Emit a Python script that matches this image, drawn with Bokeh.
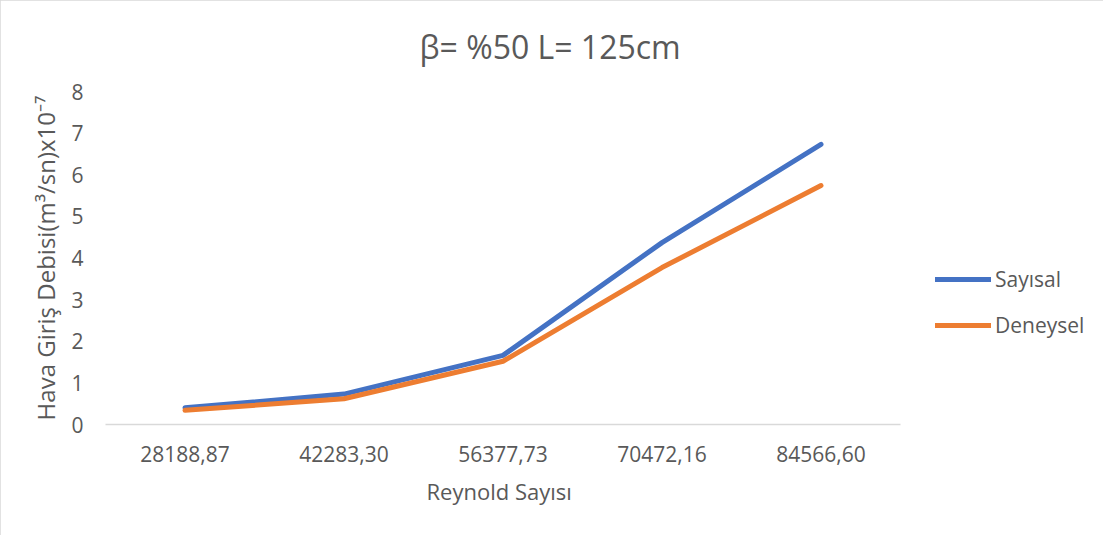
from bokeh.plotting import figure
from bokeh.models import Range1d, Legend, LegendItem, Title, FixedTicker
from bokeh.embed import file_html
from bokeh.resources import INLINE

categories = ["28188,87", "42283,30", "56377,73", "70472,16", "84566,60"]
sayisal = [0.40, 0.73, 1.66, 4.37, 6.73]
deneysel = [0.34, 0.62, 1.52, 3.77, 5.74]
series_names = ["Sayısal", "Deneysel"]
colors = ["#4472C4", "#ED7D31"]

FONT = "Open Sans"
TXT = "#595959"

idx = list(range(len(categories)))
W, H = 1103, 535
LEFT, RIGHT, TOP, BOTTOM = 105, 8, 91, 111
axis_px = 795                      # pixel length of the category axis
frame_w = W - LEFT - RIGHT
x_end = (len(categories) - 0.5) + (frame_w - axis_px) * len(categories) / axis_px

p = figure(width=W, height=H, output_backend="svg", toolbar_location=None,
           x_range=Range1d(-0.5, x_end), y_range=Range1d(0, 8),
           min_border_left=LEFT, min_border_right=RIGHT, min_border_top=TOP, min_border_bottom=BOTTOM)
p.outline_line_color = None
p.xgrid.grid_line_color = None
p.ygrid.grid_line_color = None
p.styles = {"outline": "1px solid #d9d9d9", "outline-offset": "-1px"}

r1 = p.line(idx, sayisal, line_color=colors[0], line_width=5, line_cap="round", line_join="round")
r2 = p.line(idx, deneysel, line_color=colors[1], line_width=5, line_cap="round", line_join="round")

# x axis
p.xaxis.bounds = (-0.5, len(categories) - 0.5)
p.xaxis.ticker = FixedTicker(ticks=idx)
p.xaxis.major_label_overrides = {i: c for i, c in zip(idx, categories)}
p.xaxis.axis_line_color = "#d9d9d9"
p.xaxis.axis_line_width = 1.5
p.xaxis.major_tick_line_color = None
p.xaxis.minor_tick_line_color = None
p.xaxis.major_label_text_font = FONT
p.xaxis.major_label_text_font_size = "21px"
p.xaxis.major_label_text_color = TXT
p.xaxis.major_label_standoff = 15

p.add_layout(Title(text="Reynold Sayısı", align="left", offset=321,
                   text_font=FONT, text_font_size="22px", text_font_style="normal",
                   text_color=TXT, standoff=18), "below")

# y axis
p.yaxis.ticker = FixedTicker(ticks=[0, 1, 2, 3, 4, 5, 6, 7, 8])
p.yaxis.axis_line_color = None
p.yaxis.major_tick_line_color = None
p.yaxis.minor_tick_line_color = None
p.yaxis.major_label_text_font = FONT
p.yaxis.major_label_text_font_size = "21px"
p.yaxis.major_label_text_color = TXT
p.yaxis.major_label_standoff = 16
p.yaxis.axis_label = "Hava Giriş Debisi(m³/sn)x10⁻⁷"
p.yaxis.axis_label_text_font = FONT
p.yaxis.axis_label_text_font_size = "24px"
p.yaxis.axis_label_text_font_style = "normal"
p.yaxis.axis_label_text_color = TXT
p.yaxis.axis_label_standoff = 6

p.title = Title(text="β= %50 L= 125cm", align="left", offset=314, vertical_align="top",
                text_font=FONT, text_font_size="32px", text_font_style="normal",
                text_color=TXT, standoff=44)

legend = Legend(items=[LegendItem(label=series_names[0], renderers=[r1]),
                       LegendItem(label=series_names[1], renderers=[r2])],
                location=(830, 85), orientation="vertical",
                border_line_color=None, background_fill_alpha=0,
                padding=0, margin=0, spacing=18,
                glyph_width=56, glyph_height=20, label_height=20, label_standoff=4,
                label_text_font=FONT, label_text_font_size="21px", label_text_color=TXT)
p.add_layout(legend, "center")

open("out.html", "w").write(file_html(p, INLINE))
